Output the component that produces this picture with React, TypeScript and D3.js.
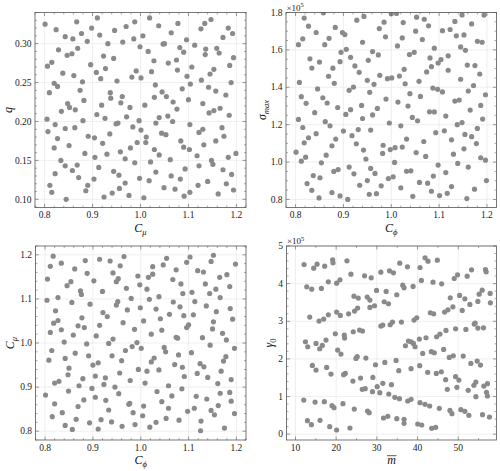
import React from "react";
import * as d3 from "d3";

const W = 500;
const H = 471;

// Panel 1: C_mu (x) vs q (y)
const cmuQ: [number, number][] = [
  [0.801,0.325],[0.910,0.333],[1.019,0.333],[1.147,0.331],[0.867,0.328],[0.988,0.328],[1.078,0.326],[1.134,0.326],[0.970,0.322],[1.038,0.323],
  [0.898,0.320],[1.183,0.320],[0.824,0.318],[0.946,0.317],[1.064,0.314],[1.126,0.319],[0.877,0.313],[1.192,0.313],[0.843,0.309],[0.859,0.306],
  [0.915,0.311],[1.005,0.310],[0.986,0.306],[1.096,0.305],[1.172,0.308],[0.889,0.303],[0.963,0.302],[0.932,0.300],[1.047,0.2995],[1.050,0.300],
  [0.999,0.296],[1.113,0.298],[1.082,0.295],[1.136,0.293],[1.135,0.286],[1.159,0.294],[0.829,0.292],[0.869,0.294],[1.016,0.290],[1.090,0.289],
  [1.164,0.288],[0.857,0.287],[0.847,0.285],[0.923,0.284],[1.194,0.282],[0.944,0.281],[1.028,0.278],[1.075,0.279],[1.058,0.275],[0.815,0.276],
  [0.806,0.271],[0.896,0.273],[1.107,0.270],[1.186,0.272],[0.927,0.268],[1.077,0.266],[1.153,0.267],[0.838,0.262],[0.908,0.263],[1.023,0.264],
  [0.991,0.265],[0.861,0.259],[1.145,0.261],[1.097,0.258],[0.982,0.257],[1.001,0.256],[0.917,0.255],[1.127,0.253],[0.879,0.251],[0.951,0.252],
  [0.820,0.249],[0.827,0.245],[1.104,0.248],[1.189,0.250],[1.031,0.247],[0.810,0.237],[0.937,0.237],[1.045,0.238],[1.087,0.242],[1.142,0.244],
  [1.157,0.239],[0.874,0.240],[0.938,0.230],[0.962,0.232],[1.054,0.232],[1.029,0.231],[1.178,0.234],[1.100,0.228],[1.068,0.225],[0.848,0.223],
  [0.852,0.218],[0.882,0.227],[0.959,0.224],[0.919,0.221],[1.009,0.221],[1.130,0.223],[0.978,0.218],[0.835,0.213],[0.864,0.215],[1.076,0.216],
  [1.153,0.214],[1.143,0.211],[1.166,0.217],[1.039,0.205],[1.057,0.207],[0.909,0.209],[0.926,0.204],[0.971,0.206],[0.805,0.203],[0.880,0.201],
  [0.997,0.201],[1.067,0.200],[1.185,0.208],[0.949,0.197],[0.953,0.198],[1.032,0.198],[0.822,0.196],[1.103,0.196],[0.843,0.191],[0.863,0.192],
  [0.984,0.193],[1.001,0.189],[1.130,0.190],[1.170,0.192],[0.807,0.187],[1.122,0.186],[1.044,0.185],[1.053,0.183],[0.936,0.184],[0.891,0.181],
  [0.904,0.179],[1.012,0.180],[1.174,0.181],[1.084,0.175],[1.157,0.175],[0.827,0.178],[0.921,0.172],[0.993,0.173],[1.011,0.173],[1.132,0.170],
  [0.820,0.166],[0.851,0.169],[0.979,0.166],[1.090,0.167],[1.102,0.164],[0.958,0.161],[1.029,0.164],[0.884,0.159],[1.199,0.159],[1.039,0.157],
  [1.118,0.156],[0.930,0.158],[0.905,0.154],[0.968,0.152],[1.062,0.151],[1.183,0.154],[1.148,0.150],[0.834,0.150],[0.988,0.147],[1.021,0.148],
  [1.151,0.145],[0.843,0.143],[0.868,0.144],[0.913,0.141],[1.122,0.143],[1.093,0.139],[1.172,0.138],[0.858,0.137],[0.944,0.136],[1.032,0.135],
  [0.822,0.133],[0.955,0.131],[1.064,0.130],[1.190,0.132],[0.871,0.128],[1.083,0.126],[0.998,0.127],[0.903,0.126],[1.018,0.124],[1.140,0.123],
  [0.968,0.121],[1.179,0.120],[0.811,0.118],[0.890,0.118],[1.120,0.118],[0.956,0.114],[1.049,0.115],[1.072,0.113],[1.194,0.112],[0.815,0.109],
  [0.886,0.111],[1.103,0.109],[1.162,0.107],[0.941,0.108],[0.976,0.105],[1.091,0.104],[0.924,0.103],[1.007,0.102],[0.845,0.100]
];

// Panel 2: C_phi (x) vs sigma_max (y, in units of 1e5)
const cphiSigma: [number, number][] = [
  [0.858,1.798],[0.818,1.770],[0.928,1.759],[0.943,1.779],[1.000,1.793],[1.011,1.795],[1.053,1.775],[1.069,1.764],[1.148,1.787],[1.194,1.786],
  [0.827,1.727],[0.883,1.720],[0.985,1.748],[0.975,1.714],[1.025,1.746],[1.078,1.729],[1.133,1.752],[1.168,1.739],[0.843,1.693],[0.898,1.693],
  [0.903,1.682],[0.988,1.670],[1.051,1.700],[1.107,1.703],[1.123,1.709],[1.136,1.675],[1.152,1.680],[0.815,1.659],[0.806,1.628],[0.870,1.662],
  [0.861,1.628],[0.940,1.641],[1.023,1.664],[1.065,1.655],[1.180,1.646],[1.190,1.641],[0.895,1.587],[0.906,1.603],[0.961,1.591],[0.973,1.573],
  [1.013,1.621],[1.090,1.609],[1.145,1.616],[1.155,1.598],[1.038,1.575],[1.048,1.587],[0.830,1.552],[0.850,1.535],[0.834,1.503],[0.915,1.560],
  [0.924,1.514],[0.893,1.537],[0.952,1.544],[1.081,1.557],[1.104,1.548],[1.098,1.530],[1.084,1.510],[1.119,1.568],[1.074,1.482],[1.119,1.491],
  [1.159,1.519],[1.175,1.516],[1.027,1.496],[0.878,1.502],[0.933,1.480],[0.869,1.459],[0.976,1.464],[1.017,1.460],[0.992,1.446],[1.001,1.450],
  [0.950,1.437],[0.964,1.416],[1.145,1.443],[1.185,1.471],[0.808,1.426],[0.881,1.421],[1.029,1.419],[1.058,1.432],[0.846,1.391],[0.912,1.384],
  [0.921,1.401],[0.955,1.373],[1.087,1.396],[1.097,1.389],[1.107,1.375],[1.039,1.366],[1.172,1.409],[1.161,1.380],[0.812,1.350],[0.857,1.344],
  [0.866,1.316],[0.822,1.314],[0.989,1.337],[1.061,1.351],[1.014,1.321],[1.133,1.326],[1.142,1.332],[1.197,1.360],[0.938,1.303],[0.888,1.292],
  [1.035,1.300],[1.187,1.303],[0.915,1.280],[0.971,1.287],[1.165,1.278],[0.840,1.264],[0.905,1.255],[1.080,1.269],[1.090,1.268],[0.806,1.228],
  [0.862,1.216],[0.872,1.194],[0.940,1.233],[0.961,1.252],[1.044,1.239],[1.055,1.221],[1.114,1.246],[1.191,1.230],[0.815,1.185],[0.900,1.166],
  [0.918,1.141],[0.931,1.174],[0.957,1.171],[0.996,1.209],[1.020,1.194],[1.093,1.157],[1.111,1.167],[1.138,1.200],[1.148,1.211],[1.180,1.180],
  [0.827,1.130],[0.843,1.152],[0.818,1.103],[0.884,1.123],[0.876,1.087],[0.927,1.098],[1.032,1.123],[1.068,1.110],[1.126,1.119],[1.154,1.148],
  [1.168,1.136],[1.178,1.099],[0.801,1.053],[0.821,1.026],[0.812,1.005],[0.864,1.037],[0.854,0.996],[0.942,1.064],[0.947,1.016],[0.982,1.046],
  [0.983,1.090],[0.998,1.067],[1.008,1.077],[1.023,1.080],[1.052,1.051],[1.072,1.030],[1.098,0.984],[1.130,1.042],[1.152,1.071],[1.187,1.023],
  [1.197,1.010],[1.139,0.993],[1.161,0.973],[1.007,0.998],[0.837,0.928],[0.851,0.916],[0.824,0.885],[0.834,0.849],[0.849,0.808],[0.880,0.950],
  [0.889,0.960],[0.912,0.973],[0.922,0.937],[0.957,0.966],[0.966,0.939],[0.950,0.901],[0.934,0.876],[0.979,0.873],[0.994,0.912],[1.004,0.921],
  [1.032,0.951],[1.041,0.953],[1.020,0.862],[1.059,0.891],[1.076,0.887],[1.088,0.925],[1.114,0.944],[1.084,0.844],[1.101,0.821],[1.117,0.833],
  [1.126,0.869],[0.876,0.837],[0.893,0.819],[0.909,0.800],[0.954,0.828],[0.969,0.831],[1.045,0.817],[1.158,0.805],[1.174,0.855],[1.199,0.901]
];

// Panel 3: C_phi (x) vs C_mu (y)
const cphiCmu: [number, number][] = [
  [0.817,1.197],[0.811,1.174],[0.834,1.181],[0.884,1.187],[0.914,1.190],[0.936,1.186],[0.965,1.196],[0.957,1.175],[0.862,1.168],[0.888,1.158],
  [0.942,1.159],[1.025,1.173],[1.047,1.177],[1.054,1.192],[1.103,1.195],[1.096,1.183],[1.074,1.166],[1.152,1.199],[1.147,1.185],[1.119,1.164],
  [1.131,1.161],[1.198,1.179],[0.805,1.145],[0.846,1.130],[0.854,1.139],[0.874,1.118],[0.876,1.110],[0.902,1.141],[0.920,1.117],[0.949,1.139],
  [0.953,1.146],[0.970,1.124],[0.994,1.152],[0.998,1.132],[1.013,1.122],[1.016,1.149],[1.025,1.156],[1.067,1.144],[1.084,1.134],[1.088,1.112],
  [1.107,1.115],[1.135,1.134],[1.144,1.112],[1.157,1.122],[1.165,1.149],[1.180,1.155],[1.186,1.128],[0.804,1.097],[0.827,1.103],[0.856,1.092],
  [0.894,1.088],[0.949,1.086],[0.952,1.094],[0.980,1.101],[1.018,1.099],[1.038,1.105],[1.068,1.093],[1.082,1.082],[1.113,1.094],[1.137,1.084],
  [1.166,1.103],[0.822,1.073],[0.921,1.069],[0.930,1.060],[0.972,1.075],[0.999,1.080],[1.032,1.077],[1.060,1.065],[1.041,1.055],[1.090,1.062],
  [1.110,1.064],[1.158,1.071],[1.187,1.078],[1.192,1.054],[0.818,1.045],[0.827,1.051],[0.877,1.057],[0.869,1.039],[0.882,1.035],[0.914,1.040],
  [0.963,1.046],[1.006,1.050],[1.096,1.035],[1.100,1.041],[1.152,1.048],[1.150,1.032],[0.811,1.024],[0.834,1.030],[0.859,1.018],[0.907,1.016],
  [0.942,1.009],[0.987,1.031],[1.022,1.020],[1.044,1.029],[1.074,1.013],[1.077,1.011],[1.129,1.012],[1.171,1.022],[1.179,1.007],[0.840,1.002],
  [0.887,0.998],[0.933,0.999],[0.992,1.001],[0.814,0.983],[0.808,0.961],[0.842,0.965],[0.863,0.977],[0.891,0.971],[0.911,0.955],[0.900,0.950],
  [0.940,0.971],[0.960,0.960],[0.968,0.983],[0.982,0.992],[1.001,0.988],[1.049,0.990],[1.052,0.980],[1.079,0.973],[1.106,0.978],[1.145,0.995],
  [1.196,0.988],[1.178,0.969],[1.173,0.959],[1.022,0.957],[1.028,0.966],[1.071,0.951],[1.087,0.945],[1.124,0.953],[1.132,0.946],[1.168,0.936],
  [0.820,0.909],[0.829,0.913],[0.850,0.943],[0.848,0.928],[0.879,0.919],[0.905,0.925],[0.926,0.921],[0.923,0.906],[0.956,0.932],[0.978,0.915],
  [0.995,0.940],[1.013,0.936],[1.038,0.939],[1.091,0.924],[1.118,0.931],[1.140,0.922],[1.189,0.917],[0.801,0.882],[0.849,0.891],[0.871,0.903],
  [0.898,0.897],[0.946,0.900],[0.954,0.885],[1.009,0.909],[1.058,0.903],[1.086,0.896],[1.161,0.908],[1.186,0.888],[1.166,0.886],[0.820,0.862],
  [0.881,0.871],[0.905,0.877],[0.927,0.870],[0.869,0.856],[0.975,0.861],[0.977,0.863],[1.006,0.857],[1.034,0.890],[1.044,0.867],[1.065,0.880],
  [1.116,0.879],[1.138,0.873],[1.189,0.868],[0.815,0.833],[0.836,0.842],[0.933,0.848],[0.984,0.842],[1.058,0.852],[1.098,0.845],[1.112,0.852],
  [1.147,0.847],[1.154,0.837],[1.162,0.858],[1.196,0.840],[0.842,0.813],[0.857,0.804],[0.865,0.827],[0.893,0.819],[0.911,0.805],[0.917,0.826],
  [0.939,0.821],[0.961,0.811],[0.988,0.815],[1.004,0.835],[1.019,0.809],[1.032,0.820],[1.053,0.829],[1.080,0.825],[1.126,0.823],[1.125,0.801],
  [1.175,0.807]
];

// Panel 4: m-bar (x) vs gamma_0 (y, in units of 1e5)
const mGamma: [number, number][] = [
  [12.12,4.509],[14.49,4.412],[15.31,4.518],[17.18,4.465],[19.14,4.633],[19.22,4.553],[22.65,4.606],[23.63,4.252],[26.98,4.208],[28.61,4.155],
  [30.98,4.305],[33.10,4.341],[34.08,4.288],[35.63,4.544],[37.51,4.447],[40.61,4.429],[41.84,4.686],[42.57,4.597],[44.86,4.624],[40.94,4.084],
  [43.80,4.040],[45.92,3.996],[49.02,4.137],[49.84,4.235],[52.20,4.199],[53.27,4.367],[56.69,4.376],[56.86,4.314],[12.78,3.916],[14.00,3.854],
  [16.37,3.872],[18.08,4.049],[20.12,4.013],[20.94,4.102],[24.37,3.668],[25.43,3.615],[27.63,3.642],[28.29,3.562],[29.92,3.819],[32.29,3.792],
  [31.80,3.518],[32.86,3.465],[34.90,3.704],[36.37,3.960],[36.69,3.889],[38.90,3.925],[48.04,3.624],[50.33,3.686],[51.63,3.597],[54.82,3.527],
  [55.14,3.721],[55.88,3.827],[57.84,3.739],[57.90,3.491],[52.86,3.447],[50.98,3.288],[48.69,3.385],[47.47,3.305],[46.65,3.243],[43.14,3.226],
  [43.96,3.199],[28.29,3.367],[29.43,3.412],[25.27,3.350],[24.53,3.270],[23.06,3.199],[20.12,3.243],[21.02,3.155],[18.08,3.173],[16.94,3.058],
  [15.80,3.004],[13.51,3.111],[30.98,2.872],[31.47,2.898],[33.27,2.907],[33.84,2.978],[36.04,2.978],[39.14,3.031],[39.80,3.093],[54.82,2.819],
  [53.92,2.925],[54.16,2.951],[51.88,2.783],[49.35,2.801],[46.98,2.757],[45.51,2.659],[44.69,2.588],[19.80,2.668],[22.00,2.633],[22.08,2.553],
  [24.20,2.721],[25.76,2.766],[26.49,2.739],[17.51,2.500],[40.45,2.527],[42.08,2.562],[56.20,2.827],[12.45,2.456],[13.02,2.323],[15.06,2.412],
  [15.96,2.270],[16.61,2.358],[37.02,2.350],[37.76,2.473],[38.41,2.456],[38.98,2.412],[39.39,2.323],[20.37,2.235],[21.18,2.128],[24.86,2.013],
  [25.18,2.058],[27.31,2.022],[41.27,2.146],[43.39,2.191],[44.12,2.164],[46.41,2.252],[47.80,2.040],[48.78,2.084],[51.22,2.075],[53.10,1.881],
  [54.65,1.942],[55.47,1.836],[14.16,1.827],[15.06,1.704],[17.67,1.774],[18.73,1.597],[21.84,1.580],[22.24,1.615],[24.12,1.412],[26.00,1.491],
  [29.02,1.509],[29.67,1.845],[31.96,1.907],[34.73,1.960],[35.39,1.686],[38.41,1.739],[40.53,1.819],[42.49,1.642],[44.61,1.615],[45.84,1.659],
  [46.90,1.447],[49.35,1.527],[50.16,1.438],[47.31,1.191],[49.67,1.244],[52.45,1.164],[53.84,1.297],[54.33,1.385],[56.29,1.279],[57.18,1.341],
  [56.94,1.111],[57.18,1.014],[54.33,0.996],[26.41,1.191],[27.14,1.208],[28.94,1.129],[30.73,1.102],[30.08,1.261],[31.47,1.350],[32.94,1.067],
  [33.59,1.315],[34.41,0.978],[35.55,0.942],[37.59,0.881],[38.41,0.925],[40.61,0.836],[41.84,0.792],[42.98,0.748],[45.35,0.686],[47.96,0.632],
  [48.45,0.544],[50.65,0.650],[51.63,0.606],[52.61,0.500],[55.96,0.518],[57.67,0.456],[12.04,0.907],[14.82,0.854],[17.10,0.863],[18.98,0.757],
  [19.47,0.704],[21.67,0.810],[24.45,0.668],[27.71,0.615],[28.12,0.571],[31.63,0.429],[32.69,0.473],[34.90,0.412],[36.69,0.394],[36.69,0.288],
  [40.04,0.270],[41.02,0.243],[43.47,0.155],[44.45,0.181],[12.94,0.358],[13.92,0.252],[16.04,0.367],[18.41,0.199],[20.12,0.111],[23.39,0.164]
];

const cTicks = [0.8, 0.9, 1.0, 1.1, 1.2];
const qTicks = [0.1, 0.15, 0.2, 0.25, 0.3];
const sigmaTicks = [0.8, 1.0, 1.2, 1.4, 1.6, 1.8];
const mTicks = [10, 20, 30, 40, 50];
const gammaTicks = [0, 1, 2, 3, 4, 5];

const SERIF = "Liberation Serif, DejaVu Serif, serif";
const POINT = "#8a8a8a";
const FRAME = "#555555";
const GRID = "#ebebeb";

type Box = { left: number; right: number; top: number; bottom: number };

function minorTicks(domain: [number, number], step: number, major: number[]) {
  const out: number[] = [];
  const start = Math.ceil(domain[0] / step - 1e-9);
  const end = Math.floor(domain[1] / step + 1e-9);
  for (let i = start; i <= end; i++) {
    const v = i * step;
    if (!major.some((m) => Math.abs(m - v) < step * 1e-3)) out.push(v);
  }
  return out;
}

interface PanelProps {
  id: string;
  box: Box;
  xDomain: [number, number];
  yDomain: [number, number];
  data: [number, number][];
  xTicks: number[];
  yTicks: number[];
  xFmt: (v: number) => string;
  yFmt: (v: number) => string;
  xMinor: number;
  yMinor: number;
  xLabel: React.ReactNode;
  yLabel: React.ReactNode;
  yLabelX: number;
  offset?: boolean;
  xOverline?: boolean;
}

function Panel(p: PanelProps) {
  const { box } = p;
  const x = d3.scaleLinear().domain(p.xDomain).range([box.left, box.right]);
  const y = d3.scaleLinear().domain(p.yDomain).range([box.bottom, box.top]);
  const xMin = minorTicks(p.xDomain, p.xMinor, p.xTicks);
  const yMin = minorTicks(p.yDomain, p.yMinor, p.yTicks);
  const MAJ = 3.5;
  const MIN = 2;
  const cx = (box.left + box.right) / 2;
  const cy = (box.top + box.bottom) / 2;
  const xLabelY = box.bottom + 24;
  return (
    <g>
      <defs>
        <clipPath id={p.id}>
          <rect x={box.left} y={box.top} width={box.right - box.left} height={box.bottom - box.top} />
        </clipPath>
      </defs>
      {p.xTicks.map((t) => (
        <line key={"gx" + t} x1={x(t)} x2={x(t)} y1={box.top} y2={box.bottom} stroke={GRID} strokeWidth={0.8} />
      ))}
      {p.yTicks.map((t) => (
        <line key={"gy" + t} x1={box.left} x2={box.right} y1={y(t)} y2={y(t)} stroke={GRID} strokeWidth={0.8} />
      ))}
      <g clipPath={`url(#${p.id})`}>
        {p.data.map((d, i) => (
          <circle key={i} cx={x(d[0])} cy={y(d[1])} r={2.6} fill={POINT} />
        ))}
      </g>
      {p.xTicks.map((t) => (
        <g key={"tx" + t}>
          <line x1={x(t)} x2={x(t)} y1={box.bottom} y2={box.bottom - MAJ} stroke={FRAME} strokeWidth={0.6} />
          <line x1={x(t)} x2={x(t)} y1={box.top} y2={box.top + MAJ} stroke={FRAME} strokeWidth={0.6} />
        </g>
      ))}
      {xMin.map((t) => (
        <g key={"mx" + t}>
          <line x1={x(t)} x2={x(t)} y1={box.bottom} y2={box.bottom - MIN} stroke={FRAME} strokeWidth={0.5} />
          <line x1={x(t)} x2={x(t)} y1={box.top} y2={box.top + MIN} stroke={FRAME} strokeWidth={0.5} />
        </g>
      ))}
      {p.yTicks.map((t) => (
        <g key={"ty" + t}>
          <line x1={box.left} x2={box.left + MAJ} y1={y(t)} y2={y(t)} stroke={FRAME} strokeWidth={0.6} />
          <line x1={box.right} x2={box.right - MAJ} y1={y(t)} y2={y(t)} stroke={FRAME} strokeWidth={0.6} />
        </g>
      ))}
      {yMin.map((t) => (
        <g key={"my" + t}>
          <line x1={box.left} x2={box.left + MIN} y1={y(t)} y2={y(t)} stroke={FRAME} strokeWidth={0.5} />
          <line x1={box.right} x2={box.right - MIN} y1={y(t)} y2={y(t)} stroke={FRAME} strokeWidth={0.5} />
        </g>
      ))}
      <rect x={box.left} y={box.top} width={box.right - box.left} height={box.bottom - box.top} fill="none" stroke={FRAME} strokeWidth={0.8} />
      {p.xTicks.map((t) => (
        <text key={"lx" + t} x={x(t)} y={box.bottom + 10.5} textAnchor="middle" fontFamily={SERIF} fontSize={9.5} fill="#222">
          {p.xFmt(t)}
        </text>
      ))}
      {p.yTicks.map((t) => (
        <text key={"ly" + t} x={box.left - 3.5} y={y(t) + 3.2} textAnchor="end" fontFamily={SERIF} fontSize={9.5} fill="#222">
          {p.yFmt(t)}
        </text>
      ))}
      {p.offset && (
        <text x={box.left + 0.5} y={box.top - 2} fontFamily={SERIF} fontSize={9} fill="#222">
          ×10<tspan dy={-3.5} fontSize={6.5}>5</tspan>
        </text>
      )}
      <text x={cx} y={xLabelY} textAnchor="middle" fontFamily={SERIF} fontSize={12} fill="#111">
        {p.xLabel}
      </text>
      {p.xOverline && (
        <line x1={cx - 4.5} x2={cx + 5} y1={xLabelY - 8.3} y2={xLabelY - 8.3} stroke="#111" strokeWidth={0.7} />
      )}
      <text transform={`translate(${p.yLabelX},${cy}) rotate(-90)`} textAnchor="middle" fontFamily={SERIF} fontSize={12} fill="#111">
        {p.yLabel}
      </text>
    </g>
  );
}

const f1 = d3.format(".1f");
const f2 = d3.format(".2f");
const f0 = d3.format("d");

const sub = (s: string, italic = true) => (
  <tspan dy={3} fontSize={8.5} fontStyle={italic ? "italic" : "normal"}>{s}</tspan>
);

export default function App() {
  const P1: Box = { left: 35, right: 246, top: 12.5, bottom: 207.5 };
  const P2: Box = { left: 286, right: 496.5, top: 12.5, bottom: 207.5 };
  const P3: Box = { left: 35.5, right: 246, top: 246, bottom: 440 };
  const P4: Box = { left: 286.5, right: 496.5, top: 246, bottom: 440 };
  return (
    <svg width={W} height={H} style={{ position: "absolute", left: 0, top: 0, background: "#fff" }}>
      <rect width={W} height={H} fill="#fff" />
      <Panel
        id="c1" box={P1} xDomain={[0.78, 1.22]} yDomain={[0.0895, 0.34]} data={cmuQ}
        xTicks={cTicks} yTicks={qTicks} xFmt={f1} yFmt={f2} xMinor={0.02} yMinor={0.01}
        xLabel={<><tspan fontStyle="italic">C</tspan>{sub("μ")}</>}
        yLabel={<tspan fontStyle="italic">q</tspan>}
        yLabelX={12}
      />
      <Panel
        id="c2" box={P2} xDomain={[0.78, 1.22]} yDomain={[0.757, 1.8]} data={cphiSigma}
        xTicks={cTicks} yTicks={sigmaTicks} xFmt={f1} yFmt={f1} xMinor={0.02} yMinor={0.05}
        xLabel={<><tspan fontStyle="italic">C</tspan>{sub("ϕ")}</>}
        yLabel={<><tspan fontStyle="italic">σ</tspan>{sub("max")}</>}
        yLabelX={266}
        offset
      />
      <Panel
        id="c3" box={P3} xDomain={[0.78, 1.22]} yDomain={[0.78, 1.22]} data={cphiCmu}
        xTicks={cTicks} yTicks={cTicks} xFmt={f1} yFmt={f1} xMinor={0.02} yMinor={0.02}
        xLabel={<><tspan fontStyle="italic">C</tspan>{sub("ϕ")}</>}
        yLabel={<><tspan fontStyle="italic">C</tspan>{sub("μ")}</>}
        yLabelX={14}
      />
      <Panel
        id="c4" box={P4} xDomain={[7.8, 59.4]} yDomain={[-0.155, 5.0]} data={mGamma}
        xTicks={mTicks} yTicks={gammaTicks} xFmt={f0} yFmt={f0} xMinor={5} yMinor={0.2}
        xLabel={<tspan fontStyle="italic">m</tspan>}
        xOverline
        yLabel={<><tspan fontStyle="italic">γ</tspan>{sub("0", false)}</>}
        yLabelX={273}
        offset
      />
    </svg>
  );
}
